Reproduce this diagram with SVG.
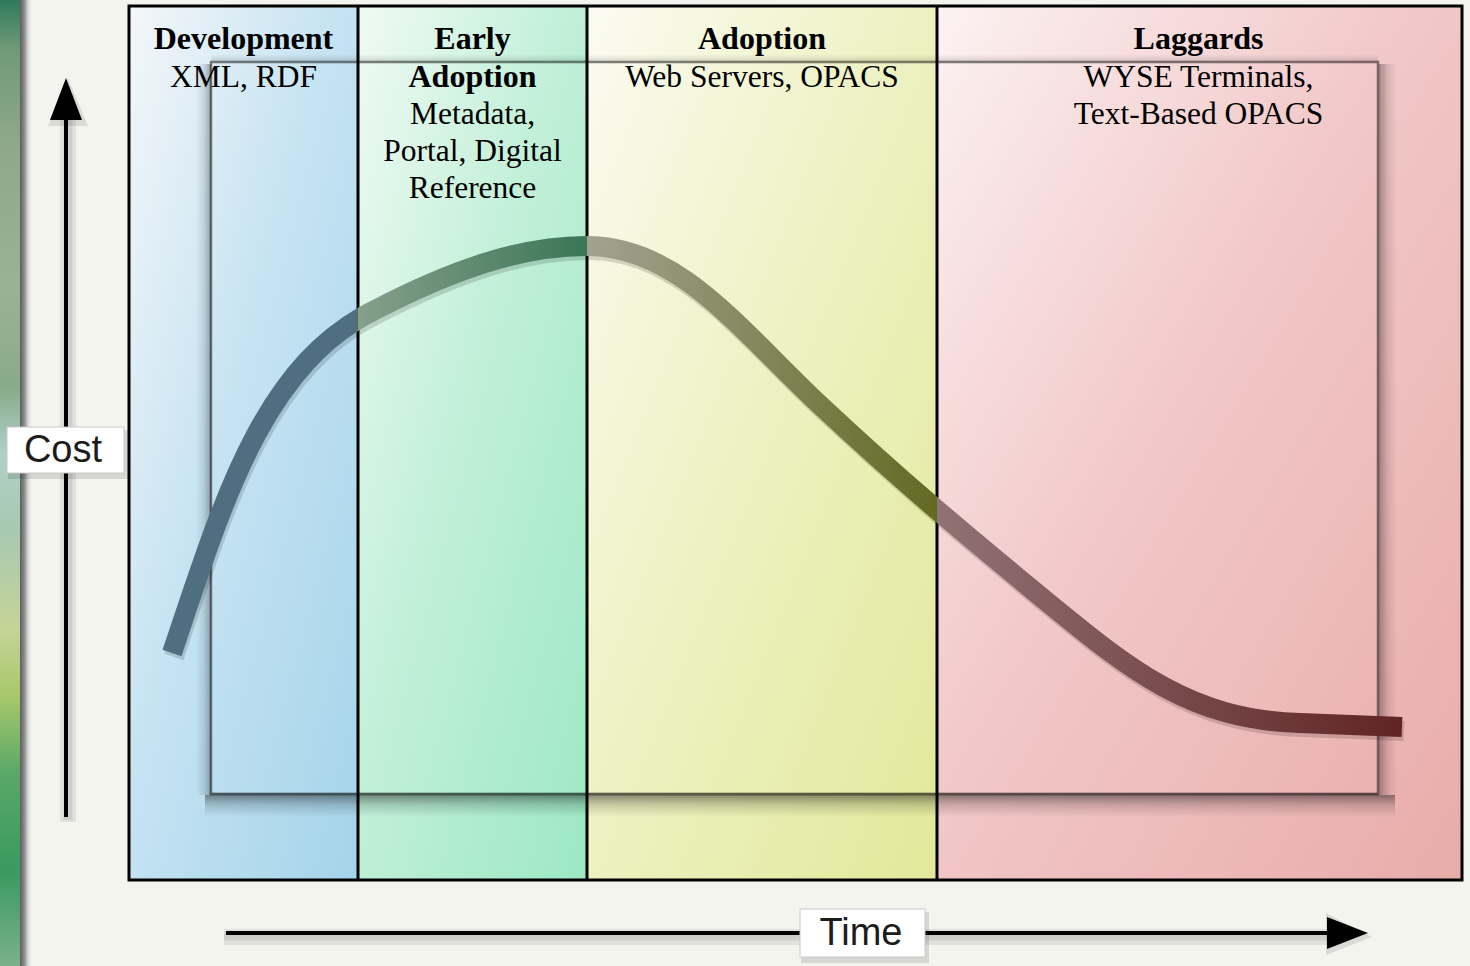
<svg xmlns="http://www.w3.org/2000/svg" width="1470" height="966" viewBox="0 0 1470 966">
<defs>
<style>
.hd{font-family:"Liberation Serif","Times New Roman",serif;font-size:32px;font-weight:bold;fill:#000;text-anchor:middle}
.bd{font-family:"Liberation Serif","Times New Roman",serif;font-size:31.5px;fill:#000;text-anchor:middle}
.ax{font-family:"Liberation Sans",Arial,sans-serif;font-size:38px;fill:#1c1c1c;text-anchor:middle}
.colr{stroke:none}
.div{stroke:#000;stroke-width:3;fill:none}
.curve{fill:none;stroke-width:20;stroke-linecap:butt;stroke-linejoin:round}
.axis{stroke:#000;stroke-width:4;fill:none}
.axsh{stroke:#000;stroke-opacity:0.08;fill:none}
.lbl{fill:#fff;stroke:#c8c8c8;stroke-width:1}
.lblsh{fill:#000;fill-opacity:0.12}
</style>
<linearGradient id="strip" x1="0" y1="0" x2="0" y2="1">
<stop offset="0" stop-color="#2f7a5a"/>
<stop offset="0.05" stop-color="#6f9a78"/>
<stop offset="0.15" stop-color="#8fa88a"/>
<stop offset="0.3" stop-color="#9bb293"/>
<stop offset="0.4" stop-color="#88aa88"/>
<stop offset="0.47" stop-color="#b0d0c8"/>
<stop offset="0.55" stop-color="#a8c8b0"/>
<stop offset="0.65" stop-color="#c4d498"/>
<stop offset="0.72" stop-color="#a8c86a"/>
<stop offset="0.8" stop-color="#5aa868"/>
<stop offset="0.9" stop-color="#3a9a60"/>
<stop offset="1" stop-color="#7ab08a"/>
</linearGradient>
<linearGradient id="edge" x1="0" y1="0" x2="1" y2="0">
<stop offset="0" stop-color="#5e5e5e"/>
<stop offset="0.35" stop-color="#8a8a8a"/>
<stop offset="0.7" stop-color="#dcdcdc"/>
<stop offset="1" stop-color="#f4f4ef"/>
</linearGradient>
<linearGradient id="gDev" x1="0" y1="0" x2="1" y2="1">
<stop offset="0" stop-color="#f4f7f9"/>
<stop offset="0.45" stop-color="#c6e3f2"/>
<stop offset="1" stop-color="#a4d4ea"/>
</linearGradient>
<linearGradient id="gEarly" x1="0" y1="0" x2="1" y2="1">
<stop offset="0" stop-color="#f0faf4"/>
<stop offset="0.45" stop-color="#c2f0d8"/>
<stop offset="1" stop-color="#9ce8c4"/>
</linearGradient>
<linearGradient id="gAdopt" x1="0" y1="0" x2="1" y2="1">
<stop offset="0" stop-color="#fbfbf2"/>
<stop offset="0.45" stop-color="#eef2c4"/>
<stop offset="1" stop-color="#e2e89a"/>
</linearGradient>
<linearGradient id="gLag" x1="0" y1="0" x2="1" y2="1">
<stop offset="0" stop-color="#fcf2f2"/>
<stop offset="0.45" stop-color="#f2c8c8"/>
<stop offset="1" stop-color="#e8acaa"/>
</linearGradient>
<linearGradient id="cEarly" gradientUnits="userSpaceOnUse" x1="358" y1="0" x2="587" y2="0">
<stop offset="0" stop-color="#86a08a"/>
<stop offset="1" stop-color="#3a7656"/>
</linearGradient>
<linearGradient id="cAdopt" gradientUnits="userSpaceOnUse" x1="587" y1="0" x2="937" y2="0">
<stop offset="0" stop-color="#a3a292"/>
<stop offset="1" stop-color="#626a22"/>
</linearGradient>
<linearGradient id="cLag" gradientUnits="userSpaceOnUse" x1="937" y1="0" x2="1400" y2="0">
<stop offset="0" stop-color="#917274"/>
<stop offset="1" stop-color="#612424"/>
</linearGradient>
<linearGradient id="shDown" x1="0" y1="0" x2="0" y2="1">
<stop offset="0" stop-color="#000" stop-opacity="0.42"/>
<stop offset="0.45" stop-color="#000" stop-opacity="0.16"/>
<stop offset="1" stop-color="#000" stop-opacity="0"/>
</linearGradient>
<linearGradient id="shLeft" x1="1" y1="0" x2="0" y2="0">
<stop offset="0" stop-color="#000" stop-opacity="0.3"/>
<stop offset="0.5" stop-color="#000" stop-opacity="0.1"/>
<stop offset="1" stop-color="#000" stop-opacity="0"/>
</linearGradient>
<linearGradient id="shRight" x1="0" y1="0" x2="1" y2="0">
<stop offset="0" stop-color="#000" stop-opacity="0.32"/>
<stop offset="0.5" stop-color="#000" stop-opacity="0.1"/>
<stop offset="1" stop-color="#000" stop-opacity="0"/>
</linearGradient>
<linearGradient id="shUp" x1="0" y1="1" x2="0" y2="0">
<stop offset="0" stop-color="#000" stop-opacity="0.12"/>
<stop offset="1" stop-color="#000" stop-opacity="0"/>
</linearGradient>
<clipPath id="kDev"><rect x="100" y="0" width="257.5" height="966"/></clipPath>
<clipPath id="kEarly"><rect x="357.5" y="0" width="229.5" height="966"/></clipPath>
<clipPath id="kAdopt"><rect x="587" y="0" width="350" height="966"/></clipPath>
<clipPath id="kLag"><rect x="937" y="0" width="533" height="966"/></clipPath>
<path id="curvePath" d="M172,653 C222,505 262,365 375,310 C448,272 520,245 590,246 C680,248 740,330 820,405 C900,480 960,530 1040,596 C1130,670 1190,720 1300,723 L1402,727"/>
</defs>

<g id="background">
<rect x="0" y="0" width="1470" height="966" fill="#f4f4ef"/>
<rect x="0" y="0" width="22" height="966" fill="url(#strip)"/>
<rect x="20" y="0" width="12" height="966" fill="url(#edge)"/>
</g>

<g id="columns">
<g id="col-development"><rect class="colr" x="129" y="6" width="229" height="874" fill="url(#gDev)"/></g>
<g id="col-early-adoption"><rect class="colr" x="358" y="6" width="229" height="874" fill="url(#gEarly)"/></g>
<g id="col-adoption"><rect class="colr" x="587" y="6" width="350" height="874" fill="url(#gAdopt)"/></g>
<g id="col-laggards"><rect class="colr" x="937" y="6" width="525" height="874" fill="url(#gLag)"/></g>
</g>

<g id="inner-frame">
<rect x="205" y="795" width="1190" height="22" fill="url(#shDown)"/>
<rect x="196" y="64" width="15" height="731" fill="url(#shLeft)"/>
<rect x="1379" y="64" width="18" height="731" fill="url(#shRight)"/>
<rect x="211" y="54" width="1167" height="7" fill="url(#shUp)"/>
<rect x="211" y="62" width="1167" height="732" fill="none" stroke="#000" stroke-opacity="0.5" stroke-width="2.5"/>
<line x1="211" y1="794" x2="1378" y2="794" stroke="#000" stroke-opacity="0.25" stroke-width="2.5"/>
</g>

<g id="frame">
<rect x="129" y="6" width="1333" height="874" class="div"/>
<line x1="358" y1="6" x2="358" y2="880" class="div"/>
<line x1="587" y1="6" x2="587" y2="880" class="div"/>
<line x1="937" y1="6" x2="937" y2="880" class="div"/>
</g>

<g id="cost-curve">
<use href="#curvePath" class="curve" stroke="#000" stroke-opacity="0.07" stroke-width="30" transform="translate(2,4)"/>
<use href="#curvePath" class="curve" stroke="#000" stroke-opacity="0.08" stroke-width="24" transform="translate(2,4)"/>
<use href="#curvePath" class="curve" stroke="#4f6f81" clip-path="url(#kDev)"/>
<use href="#curvePath" class="curve" stroke="url(#cEarly)" clip-path="url(#kEarly)"/>
<use href="#curvePath" class="curve" stroke="url(#cAdopt)" clip-path="url(#kAdopt)"/>
<use href="#curvePath" class="curve" stroke="url(#cLag)" clip-path="url(#kLag)"/>
</g>

<g id="labels">
<g id="label-development">
<text class="hd" x="243.5" y="49">Development</text>
<text class="bd" x="243.5" y="87">XML, RDF</text>
</g>
<g id="label-early-adoption">
<text class="hd" x="472.5" y="49">Early</text>
<text class="hd" x="472.5" y="87">Adoption</text>
<text class="bd" x="472.5" y="124">Metadata,</text>
<text class="bd" x="472.5" y="161">Portal, Digital</text>
<text class="bd" x="472.5" y="198">Reference</text>
</g>
<g id="label-adoption">
<text class="hd" x="762" y="49">Adoption</text>
<text class="bd" x="762" y="87">Web Servers, OPACS</text>
</g>
<g id="label-laggards">
<text class="hd" x="1198.5" y="49">Laggards</text>
<text class="bd" x="1198.5" y="87">WYSE Terminals,</text>
<text class="bd" x="1198.5" y="124">Text-Based OPACS</text>
</g>
</g>

<g id="axes">
<g id="y-axis">
<line class="axsh" x1="68" y1="822" x2="68" y2="118" stroke-width="16"/>
<line class="axsh" x1="68" y1="820" x2="68" y2="118" stroke-width="9"/>
<polygon points="48,126 68,78 88,126" fill="#000" fill-opacity="0.1"/>
<line class="axis" x1="66" y1="817" x2="66" y2="116"/>
<polygon points="50,120 66,78 82,120" fill="#000"/>
</g>
<g id="x-axis">
<line class="axsh" x1="224" y1="937" x2="1330" y2="937" stroke-width="16"/>
<line class="axsh" x1="224" y1="936" x2="1330" y2="936" stroke-width="9"/>
<polygon points="1326,913 1372,937 1326,955" fill="#000" fill-opacity="0.1"/>
<line class="axis" x1="226" y1="933" x2="1330" y2="933"/>
<polygon points="1327,917 1368,933 1327,949" fill="#000"/>
</g>
<g id="cost-label">
<rect class="lblsh" x="8" y="430" width="120" height="49"/>
<rect class="lbl" x="7" y="427" width="117" height="46"/>
<text class="ax" x="63" y="462">Cost</text>
</g>
<g id="time-label">
<rect class="lblsh" x="801" y="912" width="128" height="51"/>
<rect class="lbl" x="800" y="909" width="125" height="48"/>
<text class="ax" x="861" y="945">Time</text>
</g>
</g>
</svg>
